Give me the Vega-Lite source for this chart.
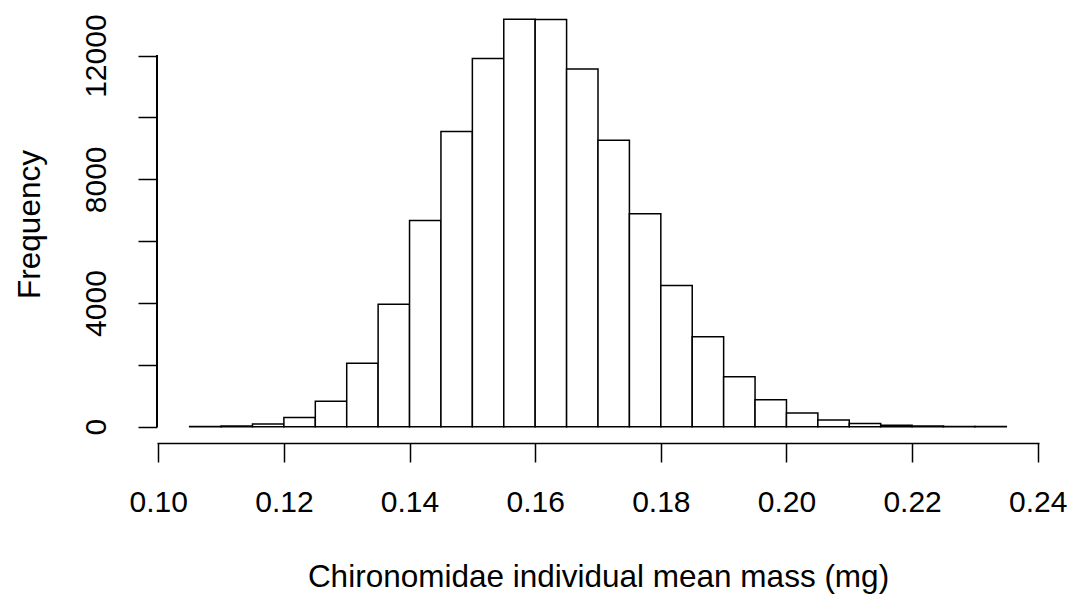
{
  "$schema": "https://vega.github.io/schema/vega-lite/v6.json",
  "width": 882,
  "height": 440,
  "autosize": {"type": "none"},
  "padding": {"left": 157, "top": 3, "right": 33, "bottom": 153},
  "background": "white",
  "config": {
    "view": {"stroke": null},
    "font": "Liberation Sans",
    "axis": {
      "labelFont": "Liberation Sans",
      "titleFont": "Liberation Sans",
      "labelFontSize": 30,
      "titleFontSize": 31.5,
      "labelColor": "black",
      "titleColor": "black",
      "titleFontWeight": "normal",
      "tickColor": "black",
      "domainColor": "black",
      "tickWidth": 1.5,
      "domainWidth": 1.5,
      "tickSize": 19,
      "grid": false
    }
  },
  "data": {
    "values": [
      {"bin_start": 0.105, "bin_end": 0.110, "count": 8},
      {"bin_start": 0.110, "bin_end": 0.115, "count": 25},
      {"bin_start": 0.115, "bin_end": 0.120, "count": 85},
      {"bin_start": 0.120, "bin_end": 0.125, "count": 300},
      {"bin_start": 0.125, "bin_end": 0.130, "count": 820},
      {"bin_start": 0.130, "bin_end": 0.135, "count": 2050},
      {"bin_start": 0.135, "bin_end": 0.140, "count": 3960},
      {"bin_start": 0.140, "bin_end": 0.145, "count": 6670},
      {"bin_start": 0.145, "bin_end": 0.150, "count": 9550},
      {"bin_start": 0.150, "bin_end": 0.155, "count": 11910},
      {"bin_start": 0.155, "bin_end": 0.160, "count": 13180},
      {"bin_start": 0.160, "bin_end": 0.165, "count": 13170},
      {"bin_start": 0.165, "bin_end": 0.170, "count": 11570},
      {"bin_start": 0.170, "bin_end": 0.175, "count": 9260},
      {"bin_start": 0.175, "bin_end": 0.180, "count": 6885},
      {"bin_start": 0.180, "bin_end": 0.185, "count": 4565},
      {"bin_start": 0.185, "bin_end": 0.190, "count": 2913},
      {"bin_start": 0.190, "bin_end": 0.195, "count": 1618},
      {"bin_start": 0.195, "bin_end": 0.200, "count": 874},
      {"bin_start": 0.200, "bin_end": 0.205, "count": 443},
      {"bin_start": 0.205, "bin_end": 0.210, "count": 216},
      {"bin_start": 0.210, "bin_end": 0.215, "count": 107},
      {"bin_start": 0.215, "bin_end": 0.220, "count": 50},
      {"bin_start": 0.220, "bin_end": 0.225, "count": 22},
      {"bin_start": 0.225, "bin_end": 0.230, "count": 10},
      {"bin_start": 0.230, "bin_end": 0.235, "count": 4}
    ]
  },
  "layer": [
    {
      "mark": {"type": "rect", "fill": "white", "stroke": "black", "strokeWidth": 1.5},
      "encoding": {
        "x": {
          "field": "bin_start",
          "type": "quantitative",
          "scale": {"domain": [0.0998, 0.2402], "nice": false, "zero": false},
          "axis": {
            "title": "Chironomidae individual mean mass (mg)",
            "values": [0.10, 0.12, 0.14, 0.16, 0.18, 0.20, 0.22, 0.24],
            "format": ".2f",
            "labelBaseline": "alphabetic",
            "labelPadding": 49,
            "labelFlush": false,
            "labelOverlap": false,
            "titleBaseline": "alphabetic",
            "titleX": 441,
            "titleY": 143,
            "titleAlign": "center"
          }
        },
        "x2": {"field": "bin_end"},
        "y": {
          "field": "count",
          "type": "quantitative",
          "scale": {"domain": [-527, 13702], "nice": false, "zero": false},
          "axis": {
            "title": "Frequency",
            "domain": false,
            "values": [0, 2000, 4000, 6000, 8000, 10000, 12000],
            "format": "d",
            "labelExpr": "datum.value % 4000 == 0 ? datum.label : ''",
            "labelAngle": 270,
            "labelAlign": "center",
            "labelBaseline": "alphabetic",
            "labelPadding": 33,
            "labelFlush": false,
            "labelOverlap": false,
            "titleAngle": 270,
            "titleBaseline": "alphabetic",
            "titleAlign": "center",
            "titleX": -118,
            "titleY": 221
          }
        },
        "y2": {"datum": 0}
      }
    },
    {
      "mark": {"type": "rule", "color": "black", "strokeWidth": 1.5},
      "encoding": {
        "x": {"datum": 0.0998, "type": "quantitative"},
        "y": {"datum": 0, "type": "quantitative"},
        "y2": {"datum": 12000}
      }
    }
  ]
}
